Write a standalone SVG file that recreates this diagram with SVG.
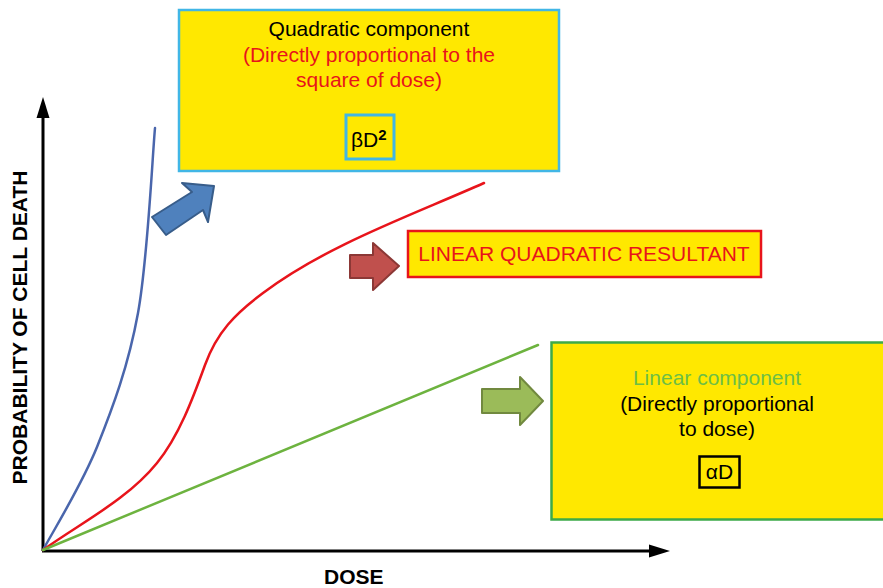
<svg xmlns="http://www.w3.org/2000/svg" width="883" height="588" viewBox="0 0 883 588">
<style>
text{font-family:"Liberation Sans",Arial,Helvetica,sans-serif;font-size:21px;}
.box{fill:#FFE800;}
.c{text-anchor:middle;}
.red{fill:#E8141B;}
.blk{fill:#000;}
.curve{fill:none;stroke-width:2.5;stroke-linecap:round;}
.axis{fill:none;stroke:#000;stroke-width:3;}
.lbl{font-weight:bold;}
</style>
<rect width="883" height="588" fill="#fff"/>
<g id="axes">
  <line class="axis" x1="43" y1="551" x2="43" y2="115"/>
  <polygon points="43,97 36.5,118 49.5,118" fill="#000"/>
  <line class="axis" x1="42" y1="551" x2="652" y2="551"/>
  <polygon points="670,551 649,544.5 649,557.5" fill="#000"/>
  <text class="lbl c" transform="translate(27,327.5) rotate(-90)">PROBABILITY OF CELL DEATH</text>
  <text class="lbl" x="324" y="584" font-size="20.5">DOSE</text>
</g>
<g id="curves">
  <path class="curve" stroke="#4A66AC" d="M43,550 C52,533 81,486.5 97,447 C112.8,407.5 128.3,366.2 138,313 C147.7,259.8 152.2,158.8 155,128"/>
  <path class="curve" stroke="#E8141B" d="M43,550 C82,522 127,500 157,463 C179,436 193,398 205,365 C217,332 235,314 263,293 C327,245 411,215.5 484,183"/>
  <path class="curve" stroke="#6DB33F" d="M43,550 L538,345"/>
</g>
<g id="connectors">
  <polygon points="152,217 192,192 182,183 214,186 208,222 203,210 166,235" fill="#4F81BD" stroke="#385D8A" stroke-width="2" stroke-linejoin="round"/>
  <polygon points="350,255 373,255 373,243 399,266 373,290 373,278 350,278" fill="#C0504D" stroke="#8C3836" stroke-width="2" stroke-linejoin="round"/>
  <polygon points="482,389 520,389 520,377 543,401 520,425 520,413 482,413" fill="#9BBB59" stroke="#71893F" stroke-width="2" stroke-linejoin="round"/>
</g>
<g id="quadratic">
  <rect class="box" x="179" y="10" width="380" height="161" stroke="#41B6E6" stroke-width="2.5"/>
  <text class="c blk" x="369" y="36">Quadratic component</text>
  <text class="c red" x="369" y="61.5">(Directly proportional to the</text>
  <text class="c red" x="369" y="87">square of dose)</text>
  <rect x="346" y="115" width="48" height="44" fill="none" stroke="#41B6E6" stroke-width="3"/>
  <text class="blk" x="351" y="147">βD<tspan font-weight="bold" font-size="15" dy="-7">2</tspan></text>
</g>
<g id="resultant">
  <rect class="box" x="408" y="231" width="353" height="46" stroke="#E8141B" stroke-width="2.5"/>
  <text class="c red" x="584" y="261">LINEAR QUADRATIC RESULTANT</text>
</g>
<g id="linear">
  <rect class="box" x="551.5" y="342.5" width="340" height="177" stroke="#3DAA48" stroke-width="2.5"/>
  <text class="c" x="717" y="385" fill="#6DBE45">Linear component</text>
  <text class="c blk" x="717" y="411">(Directly proportional</text>
  <text class="c blk" x="717" y="436">to dose)</text>
  <rect x="699.5" y="456.5" width="40" height="31" fill="none" stroke="#000" stroke-width="2.5"/>
  <text class="c blk" x="719.5" y="479">αD</text>
</g>
</svg>
